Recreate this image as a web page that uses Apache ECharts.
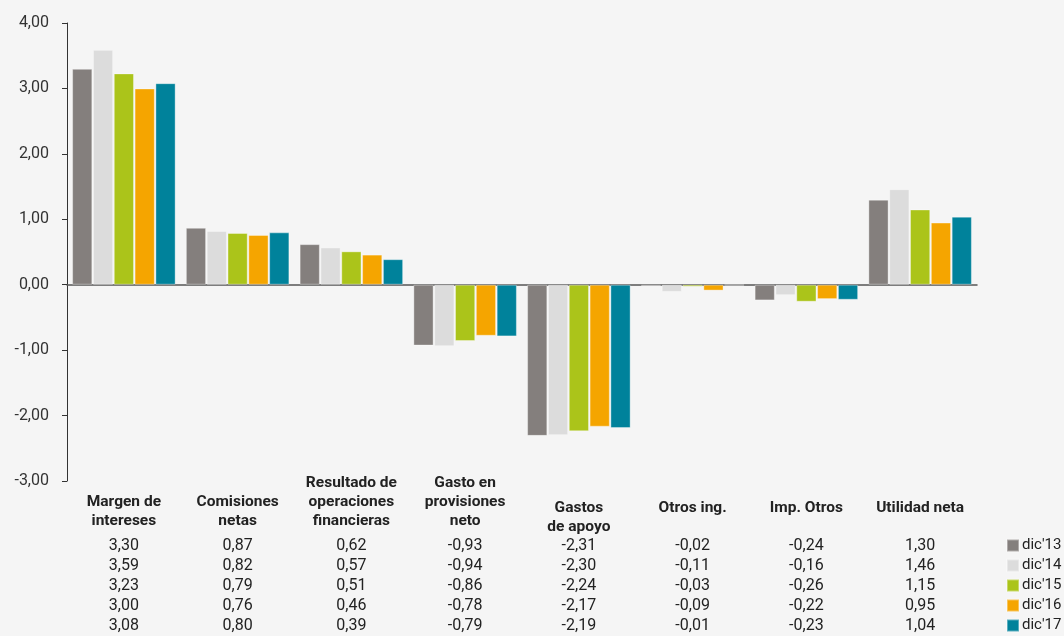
<!DOCTYPE html>
<html>
<head>
<meta charset="utf-8">
<script src="https://cdn.jsdelivr.net/npm/echarts@6/dist/echarts.min.js"></script>
<style>
html,body{margin:0;padding:0;background:#f5f5f5;}
#main{width:1064px;height:636px;}
</style>
</head>
<body>
<div id="main"></div>
<script>
const categories = ['Margen de\nintereses','Comisiones\nnetas','Resultado de\noperaciones\nfinancieras','Gasto en\nprovisiones\nneto','Gastos\nde apoyo','Otros ing.','Imp. Otros','Utilidad neta'];
const seriesNames = ["dic'13","dic'14","dic'15","dic'16","dic'17"];
const dic13 = [3.30, 0.87, 0.62, -0.93, -2.31, -0.02, -0.24, 1.30];
const dic14 = [3.59, 0.82, 0.57, -0.94, -2.30, -0.11, -0.16, 1.46];
const dic15 = [3.23, 0.79, 0.51, -0.86, -2.24, -0.03, -0.26, 1.15];
const dic16 = [3.00, 0.76, 0.46, -0.78, -2.17, -0.09, -0.22, 0.95];
const dic17 = [3.08, 0.80, 0.39, -0.79, -2.19, -0.01, -0.23, 1.04];
const yMin = -3, yMax = 4, yStep = 1;

const allData = [dic13, dic14, dic15, dic16, dic17];
const colors = ['#847f7d', '#dcdcdc', '#abc41a', '#f5a500', '#00829b'];
const fmt = v => v.toFixed(2).replace('.', ',');
const FONT = 'Roboto';

const xAxes = [];
xAxes.push({
  type: 'category', data: categories, gridIndex: 0,
  axisLine: { show: true, onZero: true, lineStyle: { color: '#555', width: 1.5 } },
  axisTick: { show: false }, axisLabel: { show: false }
});
xAxes.push({
  type: 'category', data: categories, position: 'bottom',
  axisLine: { show: false, onZero: false }, axisTick: { show: false },
  axisLabel: {
    interval: 0, hideOverlap: false, margin: 50, verticalAlign: 'bottom',
    fontFamily: FONT, fontWeight: 'bold', fontSize: 15.5, lineHeight: 19, color: '#222',
    formatter: (v, i) => i < 4 ? v : ''
  }
});
xAxes.push({
  type: 'category', data: categories, position: 'bottom',
  axisLine: { show: false, onZero: false }, axisTick: { show: false },
  axisLabel: {
    interval: 0, hideOverlap: false, margin: 18, verticalAlign: 'top',
    fontFamily: FONT, fontWeight: 'bold', fontSize: 15.5, lineHeight: 19, color: '#222',
    formatter: (v, i) => i >= 4 ? v : ''
  }
});
allData.forEach((arr, r) => {
  xAxes.push({
    type: 'category', data: categories, position: 'bottom',
    axisLine: { show: false, onZero: false }, axisTick: { show: false },
    axisLabel: {
      interval: 0, hideOverlap: false, margin: 65 + r * 20, verticalAlign: 'middle',
      fontFamily: FONT, fontSize: 16, color: '#222',
      formatter: (v, i) => fmt(arr[i])
    }
  });
});

const chart = echarts.init(document.getElementById('main'), null, { renderer: 'canvas' });
chart.setOption({
  backgroundColor: '#f5f5f5',
  animation: false,
  color: colors,
  grid: { left: 67, right: 87, top: 23, bottom: 155, containLabel: false },
  legend: {
    orient: 'vertical', left: 1006, top: 538, width: 60, height: 140, padding: 0,
    icon: 'rect', itemWidth: 12, itemHeight: 12, itemGap: 5,
    textStyle: { fontFamily: FONT, fontSize: 15, color: '#222', padding: [0, 0, 0, -2] },
    data: seriesNames
  },
  xAxis: xAxes,
  yAxis: {
    type: 'value', min: yMin, max: yMax, interval: yStep,
    axisLine: { show: true, lineStyle: { color: '#333', width: 1 } },
    axisTick: { show: true, length: 5, lineStyle: { color: '#333' } },
    splitLine: { show: false },
    axisLabel: { fontFamily: FONT, fontSize: 16, color: '#333', margin: 18, formatter: v => fmt(v) }
  },
  series: allData.map((arr, k) => ({
    name: seriesNames[k], type: 'bar', xAxisIndex: 0, data: arr,
    barGap: '3%', barCategoryGap: '9%',
    itemStyle: { color: colors[k], borderColor: 'rgba(255,255,255,0.35)', borderWidth: 1 }
  }))
});
</script>
</body>
</html>
